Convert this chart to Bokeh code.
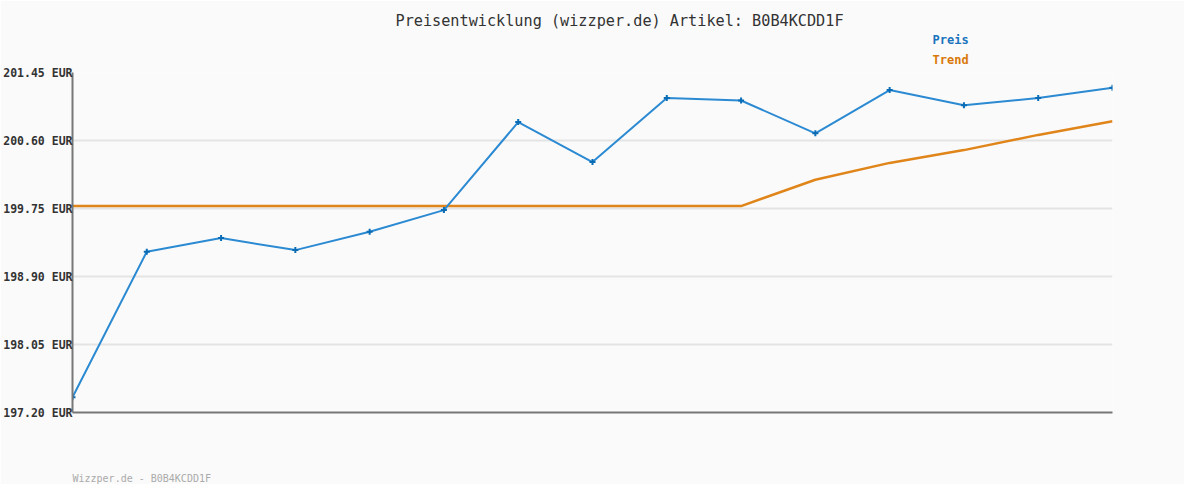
from bokeh.plotting import figure
from bokeh.models import Range1d, FixedTicker, CustomJSTickFormatter, Title
from bokeh.embed import file_html
from bokeh.resources import INLINE

# Data
x_idx = list(range(15))
preis = [197.39, 199.21, 199.38, 199.23, 199.46, 199.73, 200.83, 200.33,
         201.13, 201.10, 200.69, 201.23, 201.04, 201.13, 201.26]
trend = [199.78, 199.78, 199.78, 199.78, 199.78, 199.78, 199.78, 199.78,
         199.78, 199.78, 200.11, 200.32, 200.48, 200.67, 200.84]
y_ticks = [197.20, 198.05, 198.90, 199.75, 200.60, 201.45]
title_text = "Preisentwicklung (wizzper.de) Artikel: B0B4KCDD1F"
footer_text = "Wizzper.de - B0B4KCDD1F"
legend_labels = ["Preis", "Trend"]

MONO = "DejaVu Sans Mono"
BG = "#fafafa"

p = figure(width=1184, height=484, output_backend="svg", toolbar_location=None, title=None,
           x_range=Range1d(0, 14), y_range=Range1d(197.20, 201.45),
           min_border_left=72, min_border_right=72, min_border_top=72, min_border_bottom=72)
p.background_fill_color = BG
p.border_fill_color = BG
p.outline_line_color = None

# axes
p.xaxis.major_label_text_font_size = "0px"
p.xaxis.major_tick_line_color = None
p.xaxis.minor_tick_line_color = None
p.xaxis.major_tick_out = 0
p.xaxis.minor_tick_out = 0
p.xaxis.major_label_standoff = 0
p.xaxis.axis_line_color = "#777777"
p.xaxis.axis_line_width = 2
p.xgrid.visible = False

p.yaxis.ticker = FixedTicker(ticks=y_ticks)
p.yaxis.formatter = CustomJSTickFormatter(code="return tick.toFixed(2) + ' EUR';")
p.yaxis.axis_line_color = "#777777"
p.yaxis.axis_line_width = 2
p.yaxis.major_tick_line_color = None
p.yaxis.minor_tick_line_color = None
p.yaxis.major_tick_out = 0
p.yaxis.minor_tick_out = 0
p.yaxis.major_label_standoff = 0
p.yaxis.major_label_text_font = MONO
p.yaxis.major_label_text_font_style = "bold"
p.yaxis.major_label_text_font_size = "11.5px"
p.yaxis.major_label_text_color = "#333333"
p.ygrid.ticker = FixedTicker(ticks=y_ticks)
p.ygrid.grid_line_color = "#e4e4e4"
p.ygrid.grid_line_width = 2

# lines
p.line(x_idx, trend, line_color="#e0851a", line_width=2.5)
p.line(x_idx, preis, line_color="#2b8ad2", line_width=2)
p.scatter(x_idx, preis, marker="cross", size=6, line_color="#0a6cb5", line_width=2)

# titles stacked above (first added = closest to frame)
p.add_layout(Title(text=legend_labels[1], align="left", offset=860, text_font=MONO,
                   text_font_size="12px", text_font_style="bold", text_color="#d9780a",
                   standoff=12), "above")
p.add_layout(Title(text=legend_labels[0], align="left", offset=860, text_font=MONO,
                   text_font_size="12px", text_font_style="bold", text_color="#1a74bd",
                   standoff=-4), "above")
p.add_layout(Title(text=title_text, align="left", offset=323, text_font=MONO,
                   text_font_size="15.2px", text_font_style="normal", text_color="#333333",
                   standoff=6), "above")
# spacer below the frame, then the footer
p.add_layout(Title(text=" ", text_font_size="1px", standoff=55), "below")
p.add_layout(Title(text=footer_text, align="left", offset=0, text_font=MONO,
                   text_font_size="10px", text_font_style="normal", text_color="#aaaaaa",
                   standoff=0), "below")

open("out.html", "w").write(file_html(p, INLINE))
